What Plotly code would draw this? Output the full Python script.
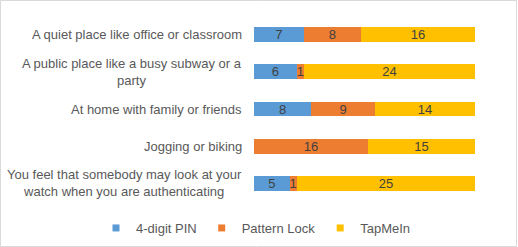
import plotly.graph_objects as go

categories = [
    "A quiet place like office or classroom",
    "A public place like a busy subway or a<br>party",
    "At home with family or friends",
    "Jogging or biking",
    "You feel that somebody may look at your<br>watch when you are authenticating",
]
series_names = ["4-digit PIN", "Pattern Lock", "TapMeIn"]
pin_values = [7, 6, 8, 0, 5]
pattern_values = [8, 1, 9, 16, 1]
tapmein_values = [16, 24, 14, 15, 25]
colors = ["#5B9BD5", "#ED7D31", "#FFC000"]

W, H = 518, 247
L, R, T, B = 254, 43, 16, 45
pw = W - L - R
ph = H - T - B
FONT = "Liberation Sans, Arial, sans-serif"
TXT = "#595959"
FS = 13

fig = go.Figure()
for name, vals, col in zip(series_names, [pin_values, pattern_values, tapmein_values], colors):
    fig.add_trace(go.Bar(
        y=categories, x=vals, orientation="h", name=name,
        marker=dict(color=col, line=dict(width=0)),
        text=[str(v) if v else "" for v in vals],
        textposition="inside", insidetextanchor="middle",
        constraintext="none", textangle=0,
        textfont=dict(family=FONT, size=FS, color="#404040"),
        showlegend=False, hoverinfo="skip",
    ))
    fig.add_trace(go.Scatter(
        x=[None], y=[None], mode="markers", name=name,
        marker=dict(symbol="square", size=7, color=col),
        showlegend=True,
    ))

for c in categories:
    fig.add_annotation(
        x=0, xref="paper", y=c, yref="y", text=c, showarrow=False,
        xanchor="right", align="center", xshift=-10,
        font=dict(family=FONT, size=FS, color=TXT),
    )

fig.add_shape(
    type="rect", xref="paper", yref="paper",
    x0=(-L + 0.5) / pw, x1=(pw + R - 1.5) / pw,
    y0=(-B + 0.5) / ph, y1=(ph + T - 0.5) / ph,
    line=dict(color="#D9D9D9", width=1), layer="below",
)

fig.update_layout(
    width=W, height=H,
    margin=dict(l=L, r=R, t=T, b=B, autoexpand=False),
    barmode="stack", bargap=0.6,
    plot_bgcolor="white", paper_bgcolor="white",
    font=dict(family=FONT, size=FS, color=TXT),
    xaxis=dict(range=[0, 31], visible=False),
    yaxis=dict(autorange="reversed", showticklabels=False, showgrid=False,
               zeroline=False, showline=False, ticks=""),
    legend=dict(orientation="h", xref="paper", x=(96 - L) / pw, xanchor="left",
                yref="paper", y=-26 / ph, yanchor="middle",
                itemwidth=30, traceorder="normal",
                font=dict(family=FONT, size=FS, color=TXT)),
)

fig.write_html("out.html", config={"displayModeBar": False},
               post_script="document.body.style.margin='0';document.body.style.overflow='hidden';")
